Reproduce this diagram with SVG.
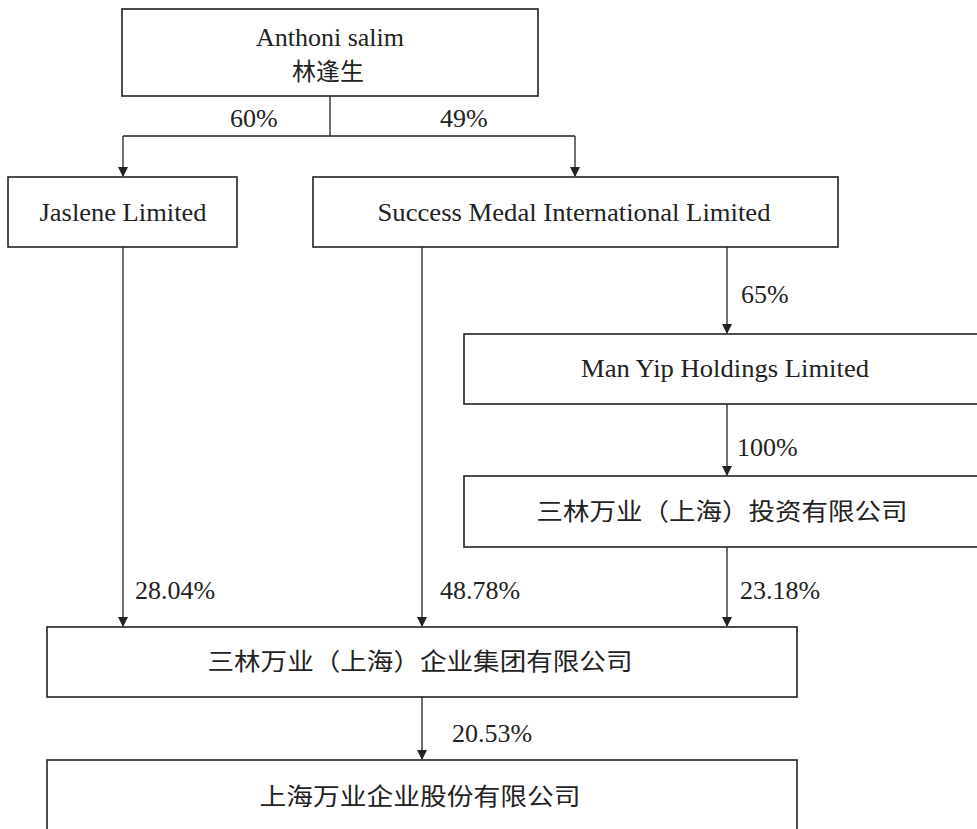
<svg xmlns="http://www.w3.org/2000/svg" width="977" height="829" viewBox="0 0 977 829">
<style>
.box{fill:#fff;stroke:#222;stroke-width:1.6}
.en{font-family:"Liberation Serif","Times New Roman",serif;font-size:26px;fill:#222}
.cn{font-family:"Noto Sans CJK SC","Noto Sans",sans-serif;font-size:24px;fill:#222}
.pc{font-family:"Liberation Serif","Times New Roman",serif;font-size:26px;fill:#222}
.ln{stroke:#222;stroke-width:1.3;fill:none}
</style>
<defs>
<marker id="ah" markerWidth="10" markerHeight="12" refX="9" refY="5" orient="auto" markerUnits="userSpaceOnUse">
<path d="M0,0 L10,5 L0,10 z" fill="#222"/>
</marker>
</defs>
<rect width="977" height="829" fill="#fff"/>
<g id="connectors">
<path class="ln" d="M330,96 V136"/>
<path class="ln" d="M123,136 H575"/>
<path class="ln" d="M123,136 V176" marker-end="url(#ah)"/>
<path class="ln" d="M575,136 V176" marker-end="url(#ah)"/>
<path class="ln" d="M123,247 V626" marker-end="url(#ah)"/>
<path class="ln" d="M422,247 V626" marker-end="url(#ah)"/>
<path class="ln" d="M727,247 V333" marker-end="url(#ah)"/>
<path class="ln" d="M727,404 V475" marker-end="url(#ah)"/>
<path class="ln" d="M727,547 V626" marker-end="url(#ah)"/>
<path class="ln" d="M422,697 V759" marker-end="url(#ah)"/>
<text class="pc" x="230" y="127">60%</text>
<text class="pc" x="440" y="127">49%</text>
<text class="pc" x="741" y="303">65%</text>
<text class="pc" x="737" y="456">100%</text>
<text class="pc" x="135" y="599">28.04%</text>
<text class="pc" x="440" y="599">48.78%</text>
<text class="pc" x="740" y="599">23.18%</text>
<text class="pc" x="452" y="742">20.53%</text>
</g>
<g id="anthoni">
<rect class="box" x="122" y="9" width="416" height="87"/>
<text class="en" x="330" y="46" text-anchor="middle">Anthoni salim</text>
<text class="cn" x="328" y="80" text-anchor="middle" font-size="26">林逢生</text>
</g>
<g id="jaslene">
<rect class="box" x="8" y="177" width="229" height="70"/>
<text class="en" x="123" y="221" text-anchor="middle" textLength="167" lengthAdjust="spacingAndGlyphs">Jaslene Limited</text>
</g>
<g id="success">
<rect class="box" x="313" y="177" width="525" height="70"/>
<text class="en" x="574" y="221" text-anchor="middle" textLength="393" lengthAdjust="spacingAndGlyphs">Success Medal International Limited</text>
</g>
<g id="manyip">
<rect class="box" x="464" y="334" width="530" height="70"/>
<text class="en" x="725" y="377" text-anchor="middle" textLength="288" lengthAdjust="spacingAndGlyphs">Man Yip Holdings Limited</text>
</g>
<g id="invest">
<rect class="box" x="464" y="476" width="530" height="71"/>
<text class="cn" x="722" y="520" text-anchor="middle" textLength="371" lengthAdjust="spacingAndGlyphs">三林万业（上海）投资有限公司</text>
</g>
<g id="group">
<rect class="box" x="47" y="627" width="750" height="70"/>
<text class="cn" x="420" y="670" text-anchor="middle" textLength="425" lengthAdjust="spacingAndGlyphs">三林万业（上海）企业集团有限公司</text>
</g>
<g id="wanye">
<rect class="box" x="47" y="760" width="750" height="90"/>
<text class="cn" x="420" y="805" text-anchor="middle" textLength="321" lengthAdjust="spacingAndGlyphs">上海万业企业股份有限公司</text>
</g>
</svg>
